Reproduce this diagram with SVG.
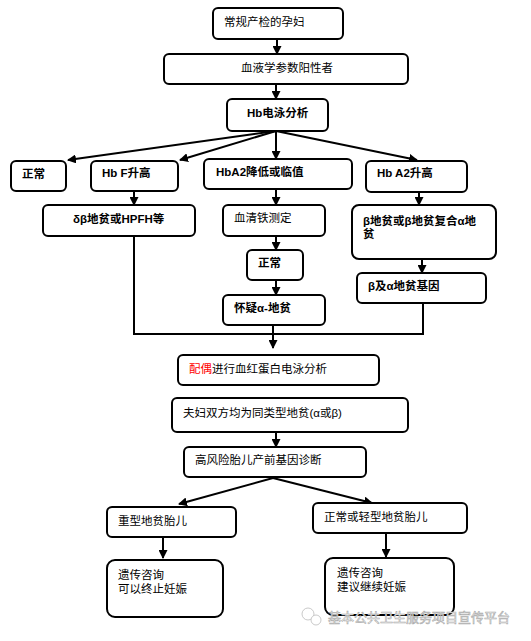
<svg xmlns="http://www.w3.org/2000/svg" width="531" height="641" viewBox="0 0 531 641">
<style>
.box{fill:#fff;stroke:#000;stroke-width:2}
.t{font-family:"Liberation Sans","Noto Sans CJK SC",sans-serif;font-size:11.5px;fill:#000}
.b{font-weight:bold}
.c{fill:none;stroke:#000;stroke-width:2}
.wm{font-family:"Noto Sans CJK SC",sans-serif;font-size:13px;fill:#fff;stroke:#aaa;stroke-width:0.6}
</style>
<defs>
<marker id="ah" markerUnits="userSpaceOnUse" markerWidth="9" markerHeight="9" refX="8" refY="4.5" orient="auto">
<path d="M0,0 L9,4.5 L0,9 Z" fill="#000"/>
</marker>
</defs>
<rect width="531" height="641" fill="#fff"/>
<g id="connectors">
<path class="c" d="M277,39 V54" marker-end="url(#ah)"/>
<path class="c" d="M276,84 V99" marker-end="url(#ah)"/>
<path class="c" d="M276,131 L68,160" marker-end="url(#ah)"/>
<path class="c" d="M276,131 L180,160" marker-end="url(#ah)"/>
<path class="c" d="M276,131 V159" marker-end="url(#ah)"/>
<path class="c" d="M276,131 L417,160" marker-end="url(#ah)"/>
<path class="c" d="M134,191 V205" marker-end="url(#ah)"/>
<path class="c" d="M276,189 V205" marker-end="url(#ah)"/>
<path class="c" d="M419,192 V205" marker-end="url(#ah)"/>
<path class="c" d="M276,236 V250" marker-end="url(#ah)"/>
<path class="c" d="M276,280 V295" marker-end="url(#ah)"/>
<path class="c" d="M422,259 V273" marker-end="url(#ah)"/>
<path class="c" d="M134,236 V334 H423 V303"/>
<path class="c" d="M273,325 V334"/>
<path class="c" d="M273,334 V348" marker-end="url(#ah)"/>
<path class="c" d="M276,432 V447" marker-end="url(#ah)"/>
<path class="c" d="M273,478 L179,504" marker-end="url(#ah)"/>
<path class="c" d="M273,478 L372,503" marker-end="url(#ah)"/>
<path class="c" d="M163,537 V558" marker-end="url(#ah)"/>
<path class="c" d="M386,533 V557" marker-end="url(#ah)"/>
</g>
<g id="n1"><rect class="box" x="213" y="8" width="130" height="31" rx="5"/><text class="t" x="224" y="26">常规产检的孕妇</text></g>
<g id="n2"><rect class="box" x="164" y="54" width="244" height="30" rx="5"/><text class="t" x="241" y="72">血液学参数阳性者</text></g>
<g id="n3"><rect class="box" x="227" y="99" width="101" height="32" rx="5"/><text class="t b" x="247" y="117">Hb电泳分析</text></g>
<g id="n4"><rect class="box" x="11" y="161" width="55" height="30" rx="5"/><text class="t b" x="22" y="178">正常</text></g>
<g id="n5"><rect class="box" x="91" y="161" width="87" height="30" rx="5"/><text class="t b" x="102" y="177">Hb F升高</text></g>
<g id="n6"><rect class="box" x="204" y="159" width="148" height="30" rx="5"/><text class="t b" x="216" y="176">HbA2降低或临值</text></g>
<g id="n7"><rect class="box" x="366" y="161" width="101" height="31" rx="5"/><text class="t b" x="377" y="177">Hb A2升高</text></g>
<g id="n8"><rect class="box" x="43" y="205" width="152" height="31" rx="5"/><text class="t b" x="73" y="223">δβ地贫或HPFH等</text></g>
<g id="n9"><rect class="box" x="223" y="205" width="102" height="31" rx="5"/><text class="t" x="234" y="222">血清铁测定</text></g>
<g id="n10"><rect class="box" x="352" y="205" width="144" height="54" rx="7"/><text class="t b" x="363" y="225">β地贫或β地贫复合α地</text><text class="t b" x="363" y="238">贫</text></g>
<g id="n11"><rect class="box" x="247" y="250" width="56" height="30" rx="5"/><text class="t b" x="258" y="267">正常</text></g>
<g id="n12"><rect class="box" x="357" y="273" width="129" height="30" rx="5"/><text class="t b" x="368" y="290">β及α地贫基因</text></g>
<g id="n13"><rect class="box" x="223" y="295" width="102" height="30" rx="5"/><text class="t b" x="234" y="312">怀疑α-地贫</text></g>
<g id="n14"><rect class="box" x="178" y="355" width="201" height="30" rx="5"/><text class="t" x="189" y="373"><tspan fill="#ff0000">配偶</tspan>进行血红蛋白电泳分析</text></g>
<g id="n15"><rect class="box" x="172" y="398" width="236" height="34" rx="5"/><text class="t" x="183" y="417">夫妇双方均为同类型地贫(α或β)</text></g>
<g id="n16"><rect class="box" x="184" y="447" width="182" height="30" rx="5"/><text class="t" x="195" y="464">高风险胎儿产前基因诊断</text></g>
<g id="n17"><rect class="box" x="107" y="507" width="129" height="30" rx="5"/><text class="t" x="118" y="525">重型地贫胎儿</text></g>
<g id="n18"><rect class="box" x="313" y="503" width="154" height="30" rx="5"/><text class="t" x="324" y="521">正常或轻型地贫胎儿</text></g>
<g id="n19"><rect class="box" x="107" y="560" width="116" height="57" rx="8"/><text class="t" x="118" y="579">遗传咨询</text><text class="t" x="118" y="592.5">可以终止妊娠</text></g>
<g id="n20"><rect class="box" x="325" y="558" width="129" height="57" rx="8"/><text class="t" x="337" y="576.5">遗传咨询</text><text class="t" x="337" y="591">建议继续妊娠</text></g>
<g id="watermark">
<circle cx="308" cy="614" r="6" fill="#fff" stroke="#bbb" stroke-width="0.8"/>
<circle cx="316" cy="620" r="5" fill="#fff" stroke="#bbb" stroke-width="0.8"/>
<text class="wm" x="328" y="622">基本公共卫生服务项目宣传平台</text>
</g>
</svg>
